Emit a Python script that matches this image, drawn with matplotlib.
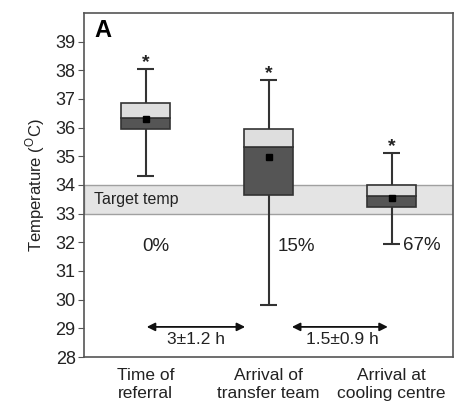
import matplotlib
matplotlib.use("Agg")
import matplotlib.pyplot as plt

plt.rcParams['font.family'] = ['Liberation Sans', 'DejaVu Sans']

categories = ["Time of\nreferral", "Arrival of\ntransfer team", "Arrival at\ncooling centre"]
whisker_low = [34.32, 29.82, 31.95]
q1 = [35.96, 33.66, 33.24]
median = [36.35, 35.33, 33.62]
q3 = [36.87, 35.96, 34.0]
whisker_high = [38.06, 37.67, 35.12]
means = [36.30, 34.98, 33.55]
percent_labels = ["0%", "15%", "67%"]
interval_labels = ["3\u00b11.2 h", "1.5\u00b10.9 h"]
target_low, target_high = 33.0, 34.0

fig = plt.figure(figsize=(4.68, 4.05), dpi=100)
ax = fig.add_axes([0.1795, 0.1185, 0.7885, 0.8495])

pos = [1, 2, 3]
ax.axhspan(target_low, target_high, facecolor='#e4e4e4', edgecolor='#a0a0a0', lw=1, zorder=0)
ax.text(0.585, (target_low + target_high) / 2, "Target temp", fontsize=11.5, va='center', ha='left', color='#222222')

bw = 0.4
ec = '#333333'
lower_h = [m - a for m, a in zip(median, q1)]
upper_h = [b - m for m, b in zip(median, q3)]
ax.vlines(pos, whisker_low, q1, color=ec, lw=1.5, zorder=2)
ax.vlines(pos, q3, whisker_high, color=ec, lw=1.5, zorder=2)
ax.hlines(whisker_low, [p - 0.07 for p in pos], [p + 0.07 for p in pos], color=ec, lw=1.5, zorder=2)
ax.hlines(whisker_high, [p - 0.07 for p in pos], [p + 0.07 for p in pos], color=ec, lw=1.5, zorder=2)
ax.bar(pos, lower_h, bottom=q1, width=bw, color='#555555', edgecolor=ec, lw=1.2, zorder=3)
ax.bar(pos, upper_h, bottom=median, width=bw, color='#dedede', edgecolor=ec, lw=1.2, zorder=3)
ax.plot(pos, means, 's', color='black', ms=5, zorder=4)
for p, w in zip(pos, whisker_high):
    ax.text(p, w + 0.22, "*", ha='center', va='center', fontsize=14, fontweight='bold', color='#222222')

# percent labels
ax.text(1.08, 31.85, percent_labels[0], ha='center', va='center', fontsize=13.5, color='#222222')
ax.text(2.07, 31.85, percent_labels[1], ha='left', va='center', fontsize=13.5, color='#222222')
ax.text(3.09, 31.9, percent_labels[2], ha='left', va='center', fontsize=13.5, color='#222222')

# interval arrows
arrow_y = 29.05
ax.annotate("", xy=(1.01, arrow_y), xytext=(1.81, arrow_y),
            arrowprops=dict(arrowstyle='<|-|>', color='#111111', lw=1.3, mutation_scale=12, shrinkA=0, shrinkB=0))
ax.annotate("", xy=(2.19, arrow_y), xytext=(2.97, arrow_y),
            arrowprops=dict(arrowstyle='<|-|>', color='#111111', lw=1.3, mutation_scale=12, shrinkA=0, shrinkB=0))
ax.text(1.41, 28.6, interval_labels[0], ha='center', va='center', fontsize=12.5, color='#222222')
ax.text(2.6, 28.6, interval_labels[1], ha='center', va='center', fontsize=12.5, color='#222222')

ax.text(0.585, 39.4, "A", fontsize=17, fontweight='bold', ha='left', va='center')

ax.set_xlim(0.5, 3.5)
ax.set_ylim(28, 40)
ax.set_yticks(range(28, 40))
ax.set_xticks(pos)
ax.set_xticklabels(categories, fontsize=12.5, color='#222222', linespacing=1.2)
ax.tick_params(axis='x', length=0, pad=8)
ax.tick_params(axis='y', labelsize=13, labelcolor='#222222', length=4, color='#555555', pad=2)
ax.set_ylabel("Temperature ($^{\\mathregular{O}}$C)", fontsize=12, color='#222222', labelpad=6)
for s in ax.spines.values():
    s.set_color('#555555')
    s.set_linewidth(1.2)

fig.savefig("out.png", dpi=100)
